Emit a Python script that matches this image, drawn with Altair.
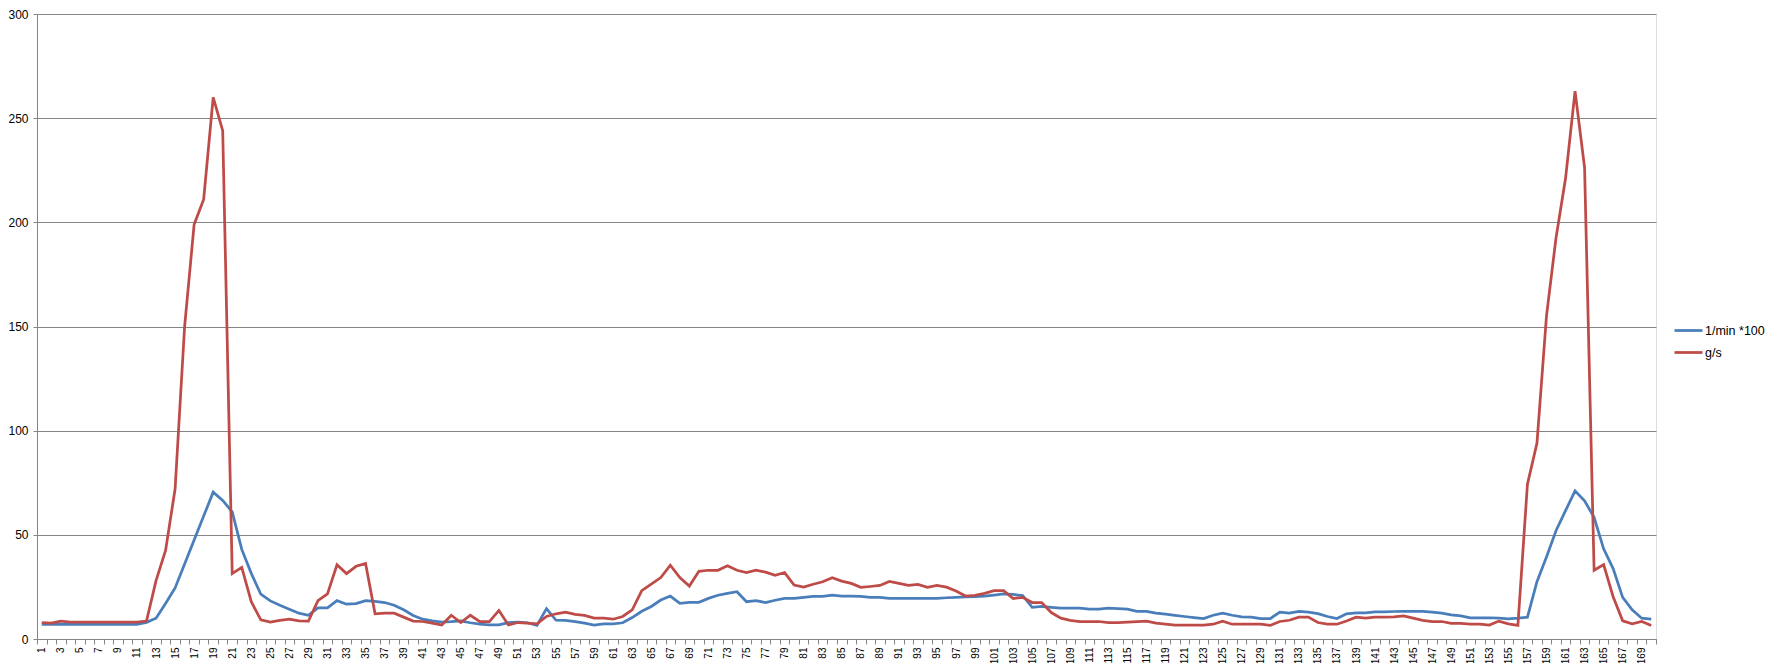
import altair as alt
import pandas as pd

categories = list(range(1, 171))

rpm_x100 = [
    7, 7, 7, 7, 7, 7, 7, 7, 7, 7,
    7, 8, 10, 17, 24.5, 36, 47.5, 59, 70.5, 66.5,
    61, 43, 31.5, 21.5, 18.3, 16.2, 14.3, 12.4, 11.4, 14.9,
    14.9, 18.4, 16.7, 17, 18.4, 18.1, 17.5, 16.2, 14, 11.3,
    9.5, 8.7, 8.1, 8.3, 8.7, 7.8, 7.1, 6.8, 6.8, 7.9,
    8.1, 7.8, 6.5, 14.6, 9.0, 8.9, 8.3, 7.6, 6.7, 7.3,
    7.3, 7.8, 10.3, 13.3, 15.6, 18.7, 20.6, 17.1, 17.6, 17.6,
    19.5, 21, 21.9, 22.7, 17.9, 18.4, 17.5, 18.6, 19.5, 19.5,
    20, 20.5, 20.5, 21, 20.6, 20.6, 20.5, 20, 20, 19.5,
    19.5, 19.5, 19.5, 19.5, 19.5, 19.8, 20, 20.2, 20.3, 20.6,
    21.1, 21.6, 21.4, 20.8, 15.2, 15.6, 15.2, 14.8, 14.8, 14.8,
    14.3, 14.3, 14.8, 14.6, 14.3, 13.3, 13.3, 12.4, 11.9, 11.3,
    10.8, 10.3, 9.8, 11.4, 12.4, 11.4, 10.6, 10.5, 9.8, 9.8,
    12.9, 12.4, 13.3, 12.9, 12.2, 10.8, 9.8, 12.1, 12.5, 12.5,
    13, 13, 13.2, 13.3, 13.3, 13.3, 12.9, 12.4, 11.6, 11.1,
    10.2, 10.2, 10.2, 10, 9.7, 10, 10.5, 27.5, 39.4, 52,
    61.6, 71.1, 66.3, 58.4, 43.3, 33.8, 20, 14, 10, 9.5,
]

g_per_s = [
    7.9, 7.6, 8.6, 8.1, 8.1, 8.1, 8.1, 8.1, 8.1, 8.1,
    8.1, 8.6, 28, 42.5, 72, 150, 199, 211, 260, 244,
    31.4, 34.4, 17.9, 9.2, 8.1, 8.9, 9.5, 8.7, 8.6, 18.4,
    21.6, 35.6, 31.4, 34.9, 36.2, 12.1, 12.4, 12.4, 10.5, 8.6,
    8.4, 7.6, 6.7, 11.4, 7.9, 11.4, 8.3, 8.3, 13.7, 6.7,
    7.9, 7.6, 7.3, 10.8, 12.1, 12.9, 11.8, 11.3, 10, 10,
    9.5, 10.8, 14, 23.2, 26.3, 29.5, 35.4, 29.5, 25.4, 32.5,
    33, 33, 35.2, 33, 31.9, 33, 32.1, 30.6, 31.9, 25.9,
    24.9, 26.3, 27.5, 29.4, 27.8, 26.7, 24.8, 25.2, 25.7, 27.6,
    26.7, 25.7, 26.2, 24.8, 25.7, 24.9, 23, 20.6, 21, 21.9,
    23.2, 23.2, 19.4, 20, 17.5, 17.5, 12.7, 10, 8.9, 8.4,
    8.4, 8.4, 7.9, 7.9, 8.1, 8.3, 8.6, 7.6, 7.1, 6.7,
    6.7, 6.7, 6.7, 7.1, 8.6, 7.1, 7.1, 7.1, 7.1, 6.5,
    8.4, 9.0, 10.5, 10.5, 7.9, 7.1, 7.1, 8.6, 10.5, 10,
    10.5, 10.5, 10.6, 11.1, 10, 8.9, 8.4, 8.4, 7.5, 7.5,
    7.1, 7.1, 6.7, 8.6, 7.3, 6.5, 74.3, 94, 155, 192.5,
    221, 263, 226.3, 33, 35.7, 20.3, 8.7, 7.3, 8.4, 6.5,
]

series_names = ["1/min *100", "g/s"]
series_colors = ["#4A7EBB", "#BE4B48"]
y_ticks = [0, 50, 100, 150, 200, 250, 300]

assert len(rpm_x100) == 170 and len(g_per_s) == 170

df = pd.DataFrame({
    "i": categories + categories,
    "v": rpm_x100 + g_per_s,
    "s": [series_names[0]] * 170 + [series_names[1]] * 170,
})

FONT = "Liberation Sans"
GRAY = "#868686"

chart = alt.Chart(df).mark_line(strokeWidth=2.75).encode(
    x=alt.X(
        "i:O",
        bandPosition=0.5,
        scale=alt.Scale(type="band", paddingInner=0, paddingOuter=0),
        axis=alt.Axis(
            title=None,
            labelAngle=270,
            labelExpr="datum.value % 2 == 1 ? datum.label : ''",
            labelOverlap=False,
            tickBand="extent",
            tickSize=5,
            tickColor=GRAY,
            domainColor=GRAY,
            labelFontSize=10,
            labelPadding=3,
            labelColor="#000000",
            labelFont=FONT,
            grid=False,
        ),
    ),
    y=alt.Y(
        "v:Q",
        scale=alt.Scale(domain=[0, 300], nice=False, zero=True),
        axis=alt.Axis(
            title=None,
            values=y_ticks,
            tickSize=4,
            tickColor=GRAY,
            domainColor=GRAY,
            gridColor=GRAY,
            gridOpacity=1,
            labelFontSize=12,
            labelPadding=5,
            labelColor="#000000",
            labelFont=FONT,
        ),
    ),
    color=alt.Color(
        "s:N",
        scale=alt.Scale(domain=series_names, range=series_colors),
        legend=alt.Legend(
            title=None,
            orient="none",
            legendX=1636,
            legendY=301,
            padding=0,
            symbolType="stroke",
            symbolSize=784,
            symbolStrokeWidth=2.75,
            labelFontSize=12.5,
            labelFont=FONT,
            labelColor="#000000",
            labelOffset=1,
            rowPadding=-4,
        ),
    ),
).properties(
    width=1619,
    height=625,
    autosize="none",
    padding={"left": 29, "top": 6, "right": 114, "bottom": 24},
).configure_view(stroke=None).configure(font=FONT)

chart.save("out.html", embed_options={"renderer": "svg", "actions": False})
